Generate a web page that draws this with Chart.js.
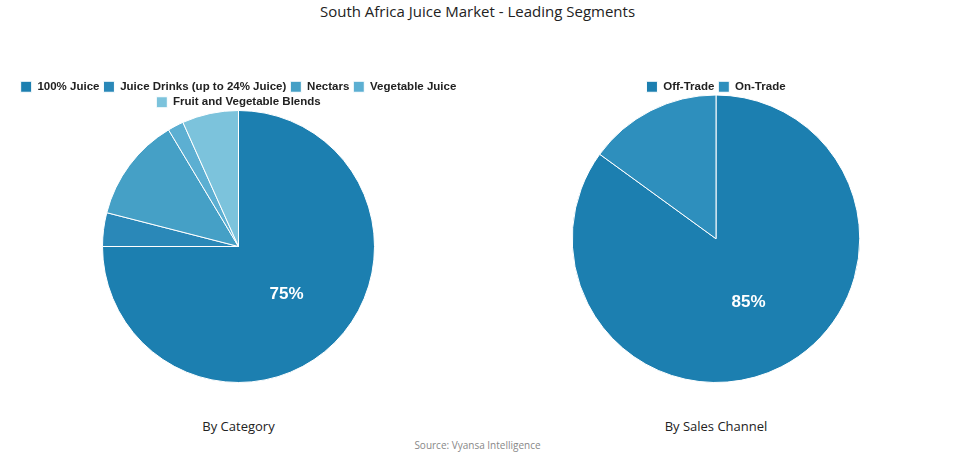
<!DOCTYPE html><html><head><script src="https://cdn.jsdelivr.net/npm/chart.js"></script>
<style>body{margin:0;width:955px;height:454px;background:#fff;font-family:"Open Sans",sans-serif;position:relative;overflow:hidden}
.t{position:absolute;width:100%;text-align:center;color:#222}
canvas{position:absolute}</style></head><body>
<div class="t" style="top:1px;font-size:15px">South Africa Juice Market - Leading Segments</div>
<div class="t" style="top:417px;left:0;width:477px;font-size:13px">By Category</div>
<div class="t" style="top:417px;left:477px;width:478px;font-size:13px">By Sales Channel</div>
<div class="t" style="top:438px;font-size:10px;color:#888">Source: Vyansa Intelligence</div>
<div style="position:absolute;left:0;top:77px;width:477px;height:306px"><canvas id="c1"></canvas></div>
<div style="position:absolute;left:477px;top:77px;width:478px;height:306px"><canvas id="c2"></canvas></div>
<script>
const catLabels=["100% Juice","Juice Drinks (up to 24% Juice)","Nectars","Vegetable Juice","Fruit and Vegetable Blends"];
const catValues=[75,4,12.4,1.9,6.7];
const catColors=["#1c7fb0","#2a88b8","#45a0c6","#5cafd2","#7cc3dc"];
const chLabels=["Off-Trade","On-Trade"];
const chValues=[85,15];
const chColors=["#1c7fb0","#2e8fbd"];
const lbl={id:'lbl',afterDatasetsDraw(c){const ctx=c.ctx;const m=c.getDatasetMeta(0);const v=c.data.datasets[0].data;const tot=v.reduce((a,b)=>a+b,0);
v.forEach((x,i)=>{if(x/tot<0.5)return;const p=m.data[i].tooltipPosition();ctx.save();ctx.fillStyle='#fff';ctx.font='bold 17px "Liberation Sans"';ctx.textAlign='center';ctx.textBaseline='middle';ctx.fillText(Math.round(x/tot*100)+'%',p.x,p.y);ctx.restore();});}};
const shrink={id:'shrink',beforeInit(c){const f=c.legend.fit;c.legend.fit=function(){f.call(this);this.height-=8;};}};
function mk(id,labels,data,colors){new Chart(document.getElementById(id),{type:'pie',data:{labels,datasets:[{data,backgroundColor:colors,borderColor:'#fff',borderWidth:1}]},
options:{responsive:true,maintainAspectRatio:false,animation:false,layout:{padding:0},plugins:{tooltip:{enabled:false},legend:{position:'top',labels:{boxWidth:11,boxHeight:11,padding:4,color:'#222',font:{size:11.5,weight:'bold',family:'"Liberation Sans"'}}}}},plugins:[lbl,shrink]});}
mk('c1',catLabels,catValues,catColors);
mk('c2',chLabels,chValues,chColors);
</script></body></html>
